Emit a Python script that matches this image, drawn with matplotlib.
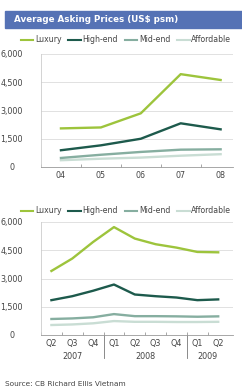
import matplotlib.pyplot as plt
from matplotlib.patches import Rectangle

# annual series
years = ["04", "05", "06", "07", "08"]
lux_y = [2050, 2100, 2850, 4930, 4620]
high_y = [890, 1150, 1500, 2320, 2000]
mid_y = [480, 650, 800, 920, 940]
aff_y = [360, 440, 500, 600, 680]

# quarterly series
quarters = ["Q2", "Q3", "Q4", "Q1", "Q2", "Q3", "Q4", "Q1", "Q2"]
q_years = ["2007", "2008", "2009"]
lux_q = [3400, 4060, 4940, 5730, 5120, 4820, 4640, 4410, 4390]
high_q = [1850, 2060, 2350, 2680, 2150, 2060, 1990, 1850, 1890]
mid_q = [850, 880, 940, 1110, 1000, 1000, 990, 970, 990]
aff_q = [530, 560, 620, 740, 700, 700, 690, 690, 700]

names = ["Luxury", "High-end", "Mid-end", "Affordable"]
colors = ["#9dc43c", "#1d5a4c", "#86aea0", "#c9ddd4"]

plt.rcParams['font.family'] = ['DejaVu Sans']
W, H = 242, 392
fig = plt.figure(figsize=(W / 100, H / 100), dpi=100)
fig.patch.set_facecolor("white")

# title bar
fig.patches.append(Rectangle((5 / W, 1 - 28 / H), 237 / W, 17 / H,
                             transform=fig.transFigure, color="#5572b5", zorder=0))
fig.text(14 / W, 1 - 19.5 / H, "Average Asking Prices (US$ psm)", color="white",
         fontsize=6.3, fontweight="bold", va="center", ha="left")


def style(ax):
    ax.set_ylim(0, 6000)
    ax.set_yticks([0, 1500, 3000, 4500, 6000])
    ax.set_yticklabels(["0", "1,500", "3,000", "4,500", "6,000"])
    ax.grid(axis="y", color="#dcdcdc", lw=0.6)
    ax.set_axisbelow(True)
    for s in ["top", "right"]:
        ax.spines[s].set_visible(False)
    ax.spines["left"].set_color("#cccccc")
    ax.spines["bottom"].set_color("#999999")
    ax.spines["left"].set_linewidth(0.6)
    ax.spines["bottom"].set_linewidth(0.6)
    ax.tick_params(axis="both", length=0, labelsize=5.8, colors="#444444", pad=3)
    ax.tick_params(axis="y", pad=21)
    for lab in ax.get_yticklabels():
        lab.set_ha("center")


def add_legend(ax_top_px):
    handles = []
    for n, c in zip(names, colors):
        h, = plt.plot([], [], color=c, lw=1.5, label=n)
        handles.append(h)
    fig.legend(handles=handles, loc="center", ncol=4,
               bbox_to_anchor=(0.5 + 5 / W, 1 - ax_top_px / H), frameon=False,
               fontsize=5.6, handlelength=1.6, handletextpad=0.2,
               columnspacing=0.9, labelcolor="#444444")


# annual chart
ax1 = fig.add_axes([41 / W, 1 - 167 / H, 192 / W, 113 / H])
x1 = list(range(len(years)))
for vals, c in zip([aff_y, mid_y, high_y, lux_y], colors[::-1]):
    ax1.plot(x1, vals, color=c, lw=1.7)
ax1.set_xticks(x1)
ax1.set_xticklabels(years)
ax1.set_xlim(-0.21, 4.31)
style(ax1)
ax1.set_xticks([i + 0.5 for i in range(-1, 4)], minor=True)
ax1.tick_params(axis="x", which="minor", length=2, color="#999999", direction="in")
add_legend(40)

# quarterly chart
ax2 = fig.add_axes([41 / W, 1 - 335 / H, 192 / W, 113 / H])
x2 = list(range(len(quarters)))
for vals, c in zip([aff_q, mid_q, high_q, lux_q], colors[::-1]):
    ax2.plot(x2, vals, color=c, lw=1.7)
ax2.set_xticks(x2)
ax2.set_xticklabels(quarters)
ax2.set_xlim(-0.43, 8.71)
style(ax2)
ax2.set_xticks([i + 0.5 for i in range(-1, 8)], minor=True)
ax2.tick_params(axis="x", which="minor", length=2, color="#999999", direction="in")
for xs in [2.5, 6.5]:
    ax2.plot([xs, xs], [0, -0.2], transform=ax2.get_xaxis_transform(),
             color="#777777", lw=0.6, clip_on=False)
for xc, yr in zip([1, 4.5, 7.5], q_years):
    ax2.text(xc, -0.19, yr, transform=ax2.get_xaxis_transform(), ha="center",
             va="center", fontsize=5.8, color="#444444")
add_legend(211)

fig.text(5 / W, 1 - 384 / H, "Source: CB Richard Ellis Vietnam", fontsize=5.3,
         color="#444444", ha="left", va="center")

fig.savefig("out.png", dpi=100)
